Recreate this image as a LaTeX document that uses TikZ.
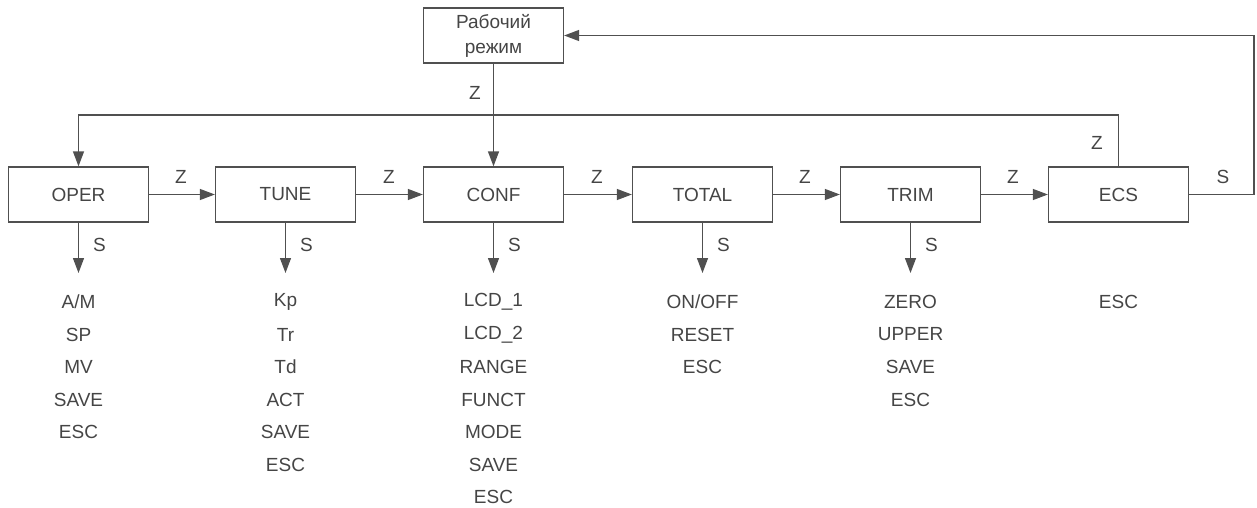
\documentclass[tikz,border=0pt]{standalone}
\usepackage{fontspec}
\setmainfont{Liberation Sans}
\usetikzlibrary{arrows.meta}
\definecolor{ln}{HTML}{505050}
\definecolor{tx}{HTML}{454545}
\begin{document}
\begin{tikzpicture}[x=1pt,y=-1pt,
 box/.style={draw=ln, line width=1.3pt, minimum width=140pt, minimum height=55pt, inner sep=0pt, text=tx, font=\fontsize{19}{25}\selectfont, align=center},
 conn/.style={draw=ln, line width=1.3pt, -{Triangle[length=15pt,width=11pt]}},
 lbl/.style={text=tx, font=\fontsize{19}{22}\selectfont, inner sep=0pt},
 item/.style={text=tx, font=\fontsize{19}{22}\selectfont, inner sep=0pt}]
\useasboundingbox (0,0) rectangle (1257,508);
% boxes
\node[box] (rab) at (493.5,35.5) {Рабочий\\режим};
\node[box] (oper) at (78.5,194.5) {OPER};
\node[box] (tune) at (285.5,194.5) {TUNE};
\node[box] (conf) at (493.5,194.5) {CONF};
\node[box] (total) at (702.5,194.5) {TOTAL};
\node[box] (trim) at (910.5,194.5) {TRIM};
\node[box] (ecs) at (1118.5,194.5) {ECS};
% horizontal Z arrows
\draw[conn] (oper) -- (tune);
\draw[conn] (tune) -- (conf);
\draw[conn] (conf) -- (total);
\draw[conn] (total) -- (trim);
\draw[conn] (trim) -- (ecs);
\node[lbl] (z1) at (181,177) {Z};
\node[lbl] (z2) at (389,177) {Z};
\node[lbl] (z3) at (597,177) {Z};
\node[lbl] (z4) at (805,177) {Z};
\node[lbl] (z5) at (1013,177) {Z};
% from working mode to CONF
\draw[conn] (rab.south) -- (conf.north);
\node[lbl] (zr) at (475,93) {Z};
% ECS Z loop to OPER
\coordinate (ecsup) at (1118.5,115);
\draw[conn] (ecs.north) -- (ecsup) -| (oper.north);
\node[lbl] (ze) at (1097,143) {Z};
% ECS S loop to working mode
\coordinate (rcorner) at (1254,194.5);
\draw[conn] (ecs.east) -- (rcorner) |- (rab.east);
\node[lbl] (se) at (1223,177) {S};
% S down arrows
\foreach \n/\x in {oper/78.5,tune/285.5,conf/493.5,total/702.5,trim/910.5}{
  \coordinate (\n-tip) at (\x,273);
  \draw[conn] (\n.south) -- (\n-tip);
  \node[lbl] (\n-s) at (\x+21,245) {S};
}
% lists
\foreach [count=\i from 0] \t in {A/M,SP,MV,SAVE,ESC}
  \node[item] (oper-\i) at (78.5,302+32.5*\i) {\t};
\foreach [count=\i from 0] \t in {Kp,Tr,Td,ACT,SAVE,ESC}
  \node[item] (tune-\i) at (285.5,302+32.5*\i) {\t};
\foreach [count=\i from 0] \t in {LCD\_1,LCD\_2,RANGE,FUNCT,MODE,SAVE,ESC}
  \node[item] (conf-\i) at (493.5,302+32.5*\i) {\t};
\foreach [count=\i from 0] \t in {ON/OFF,RESET,ESC}
  \node[item] (total-\i) at (702.5,302+32.5*\i) {\t};
\foreach [count=\i from 0] \t in {ZERO,UPPER,SAVE,ESC}
  \node[item] (trim-\i) at (910.5,302+32.5*\i) {\t};
\node[item] (ecs-0) at (1118.5,302) {ESC};
\end{tikzpicture}
\end{document}
